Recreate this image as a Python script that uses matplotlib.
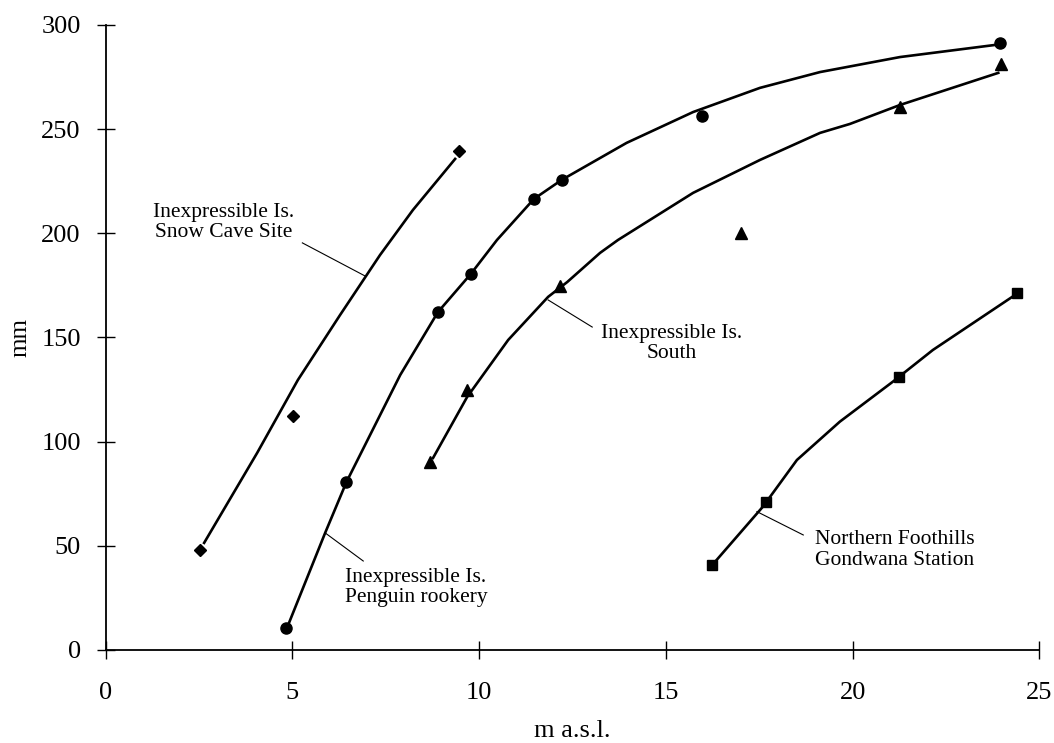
import matplotlib
matplotlib.use("Agg")
import matplotlib.pyplot as plt

plt.rcParams['font.family'] = ['Liberation Serif', 'DejaVu Serif']

# measured points (m a.s.l., mm)
snow_x = [2.53, 5.01, 9.46]
snow_y = [48.0, 112.3, 239.7]

rook_x = [4.83, 6.45, 8.89, 9.78, 11.47, 12.21, 15.97, 23.95]
rook_y = [10.6, 80.6, 162.4, 180.5, 216.5, 225.6, 256.5, 291.4]

south_x = [8.69, 9.68, 12.17, 17.0, 21.27, 23.98]
south_y = [90.4, 124.8, 174.9, 200.2, 260.7, 281.2]

gond_x = [16.23, 17.68, 21.24, 24.40]
gond_y = [40.8, 71.2, 130.9, 171.4]

# hand-drawn curves
snow_cx = [2.64, 4.06, 5.15, 6.28, 7.35, 8.23, 9.36]
snow_cy = [51.4, 94.6, 129.6, 160.8, 189.6, 211.2, 235.7]

rook_cx = [4.89, 5.88, 6.45, 7.89, 8.90, 9.78, 10.48, 11.47, 12.21, 13.95,
           15.73, 17.52, 19.13, 21.27, 23.81]
rook_cy = [12.0, 56.2, 80.6, 132.0, 162.2, 180.5, 196.8, 216.5, 225.6, 243.4,
           258.2, 269.8, 277.4, 284.6, 290.4]

south_cx = [8.77, 9.68, 10.78, 11.85, 12.36, 13.24, 13.72, 15.73, 17.52,
            19.13, 19.93, 21.27, 23.90]
south_cy = [92.2, 121.4, 148.8, 169.5, 176.6, 190.6, 196.8, 219.4, 235.2,
            248.2, 252.5, 261.6, 277.0]

gond_cx = [16.36, 17.60, 18.51, 19.66, 21.08, 22.15, 24.35]
gond_cy = [43.2, 68.8, 91.2, 109.6, 128.8, 144.0, 170.4]

labels = ["Inexpressible Is.\nSnow Cave Site",
          "Inexpressible Is.\nPenguin rookery",
          "Inexpressible Is.\nSouth",
          "Northern Foothills\nGondwana Station"]

fig = plt.figure(figsize=(10.54, 7.43), dpi=100)
ax = fig.add_axes([0.1001, 0.1252, 0.886, 0.8412])

lw = 1.9
ax.plot(snow_cx, snow_cy, color='black', lw=lw)
ax.plot(rook_cx, rook_cy, color='black', lw=lw)
ax.plot(south_cx, south_cy, color='black', lw=lw)
ax.plot(gond_cx, gond_cy, color='black', lw=lw)

ax.plot(snow_x, snow_y, 'D', color='black', ms=6.5, ls='none')
ax.plot(rook_x, rook_y, 'o', color='black', ms=8, ls='none')
ax.plot(south_x, south_y, '^', color='black', ms=8, ls='none')
ax.plot(gond_x, gond_y, 's', color='black', ms=7, ls='none')

# labels with thin leader lines
fs = 15.5
thin = dict(color='black', lw=0.8)
ax.text(3.16, 205.2, labels[0], ha='center', va='center', fontsize=fs,
        linespacing=1.1)
ax.plot([5.27, 6.95], [195.4, 179.5], **thin)

ax.text(6.4, 39.5, labels[1], ha='left', va='top', fontsize=fs,
        linespacing=1.1)
ax.plot([5.88, 6.90], [56.2, 42.7], **thin)

ax.text(15.15, 147, labels[2], ha='center', va='center', fontsize=fs,
        linespacing=1.1)
ax.plot([11.85, 13.03], [168, 155], **thin)

ax.text(19.0, 48, labels[3], ha='left', va='center', fontsize=fs,
        linespacing=1.1)
ax.plot([17.44, 18.68], [66.4, 55.2], **thin)

ax.set_xlim(0, 25)
ax.set_ylim(0, 300)
ax.set_xticks([0, 5, 10, 15, 20, 25])
ax.set_yticks([0, 50, 100, 150, 200, 250, 300])
ax.spines['top'].set_visible(False)
ax.spines['right'].set_visible(False)
for s in ['left', 'bottom']:
    ax.spines[s].set_linewidth(1.3)
ax.tick_params(direction='inout', length=13.5, width=1.0, labelsize=19)
ax.tick_params(axis='x', pad=16)
ax.tick_params(axis='y', pad=11)

ax.set_xlabel("m a.s.l.", fontsize=19, labelpad=12)
ax.set_ylabel("mm", fontsize=18, labelpad=7)

fig.savefig("out.png", dpi=100)
